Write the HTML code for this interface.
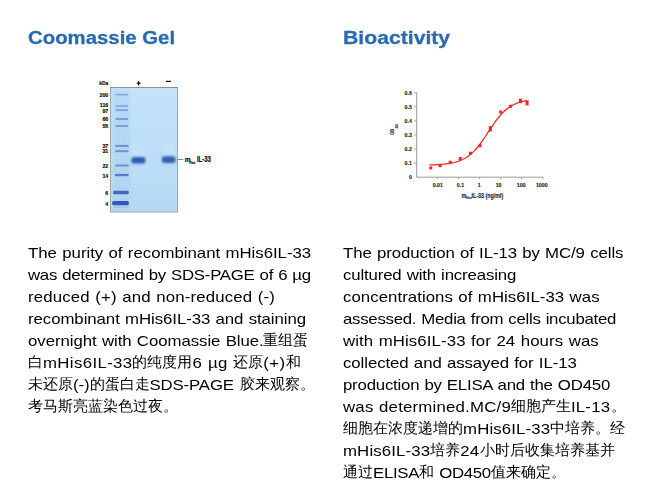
<!DOCTYPE html>
<html><head><meta charset="utf-8">
<style>
html,body{margin:0;padding:0;background:#fff;}
body{width:648px;height:494px;overflow:hidden;position:relative;font-family:"Liberation Sans",sans-serif;}
h2{position:absolute;transform-origin:0 0;-webkit-text-stroke:0.3px #2a6bb0;margin:0;font-weight:bold;font-size:18px;line-height:22px;color:#2a6bb0;white-space:nowrap;}
.ln{position:absolute;word-spacing:0.6px;font-size:15px;line-height:22px;height:22px;color:#000;white-space:nowrap;transform:scaleX(var(--sx));transform-origin:0 0;}
.cj{display:inline-block;position:relative;top:-0.7px;}
.cj>span{display:inline-block;transform:scaleX(var(--isx));transform-origin:0 0;}
:root{--sx:1.12;--isx:0.89286;}
svg{position:absolute;left:0;top:0;}
</style></head><body>
<h2 id="h1" style="left:28px;top:27px;transform:scaleX(1.131)">Coomassie Gel</h2>
<h2 id="h2" style="left:343.4px;top:27px;transform:scaleX(1.177)">Bioactivity</h2>


<svg id="gel" width="648" height="494" viewBox="0 0 648 494">
<defs>
<filter id="b1" x="-20%" y="-200%" width="140%" height="500%"><feGaussianBlur stdDeviation="0.65"/></filter>
<filter id="b2" x="-20%" y="-100%" width="140%" height="300%"><feGaussianBlur stdDeviation="0.75"/></filter>
<filter id="b4" x="-30%" y="-80%" width="160%" height="260%"><feGaussianBlur stdDeviation="0.95"/></filter>
<filter id="b3" x="-50%" y="-50%" width="200%" height="200%"><feGaussianBlur stdDeviation="1.5"/></filter>
<linearGradient id="gg" x1="0" y1="0" x2="0" y2="1"><stop offset="0" stop-color="#c4e3fa"/><stop offset="1" stop-color="#b6d9f3"/></linearGradient>
</defs>
<rect x="110.5" y="87.5" width="67" height="124.5" fill="url(#gg)" stroke="#a6a6a6" stroke-width="1"/>
<line x1="110" y1="87.5" x2="178" y2="87.5" stroke="#8e8e8e" stroke-width="1"/>
<rect x="113" y="90" width="17" height="121" fill="#a4c9ec" opacity="0.35" filter="url(#b3)"/>
<g opacity="0.3" filter="url(#b3)">
<rect x="133" y="143" width="11" height="13" fill="#d2ebfb"/>
<rect x="163.5" y="142" width="11" height="13" fill="#d2ebfb"/>
</g>
<g filter="url(#b1)">
<rect x="115.5" y="93.9" width="12.5" height="1.6" fill="#82a9d9"/>
<rect x="115.5" y="105.2" width="12.5" height="1.6" fill="#82a9d9"/>
<rect x="115.5" y="109.3" width="12.5" height="1.7" fill="#7aa3d6"/>
<rect x="115.5" y="118" width="12.5" height="1.9" fill="#739dd4"/>
<rect x="115.5" y="125" width="12.5" height="1.9" fill="#769fd4"/>
<rect x="115.3" y="144.9" width="13.3" height="2" fill="#6894d0"/>
<rect x="115.3" y="150.2" width="13.3" height="2" fill="#6894d0"/>
<rect x="115.3" y="164.5" width="13.3" height="2" fill="#6a95d0"/>
<rect x="115" y="173.9" width="13.6" height="2.3" fill="#4f7ec9"/>
<rect x="113.2" y="190.8" width="15.6" height="3.4" rx="1.2" fill="#3a6bc0"/>
<rect x="112.2" y="201" width="16.6" height="4.3" rx="1.5" fill="#2c5bb6"/>
<rect x="114" y="206.5" width="14" height="1.2" fill="#8fb2de" opacity="0.6"/>
</g>
<g filter="url(#b4)">
<rect x="131.4" y="156.9" width="14" height="6.6" rx="2.6" fill="#2e5cb4"/>
<rect x="161.9" y="156.3" width="13.6" height="6.6" rx="2.6" fill="#325fb6"/>
</g>
<line x1="177.6" y1="159.5" x2="183.3" y2="159.5" stroke="#666" stroke-width="0.8"/>
<g font-family="Liberation Sans, sans-serif" font-weight="bold" fill="#0a0a0a" stroke="#0a0a0a" stroke-width="0.18">
<g font-size="6.2" text-anchor="end">
<text transform="translate(108.3 84.5) scale(0.8 1)">kDa</text>
<text transform="translate(108.3 97.3) scale(0.85 1)">200</text>
<text transform="translate(108.3 106.9) scale(0.85 1)">116</text>
<text transform="translate(108.3 113.3) scale(0.85 1)">97</text>
<text transform="translate(108.3 121.1) scale(0.85 1)">66</text>
<text transform="translate(108.3 127.7) scale(0.85 1)">55</text>
<text transform="translate(108.3 148) scale(0.85 1)">37</text>
<text transform="translate(108.3 153.1) scale(0.85 1)">31</text>
<text transform="translate(108.3 167.5) scale(0.85 1)">22</text>
<text transform="translate(108.3 177.7) scale(0.85 1)">14</text>
<text transform="translate(108.3 195) scale(0.85 1)">6</text>
<text transform="translate(108.3 205.9) scale(0.85 1)">4</text>
</g>
<rect x="136.7" y="82.6" width="3.9" height="1.2" stroke="none"/>
<rect x="138.05" y="81.1" width="1.2" height="4.3" stroke="none"/>
<rect x="165.9" y="80.8" width="5.1" height="1.2" stroke="none"/>
<text transform="translate(184.8 161.8) scale(0.85 1)" font-size="7.8">m</text>
<text transform="translate(189.3 163.8) scale(0.75 1)" font-size="4.3">Hist</text>
<text transform="translate(196.9 161.8) scale(0.7 1)" font-size="8.6">IL-33</text>
</g>
</svg>

<svg id="chart" width="648" height="494" viewBox="0 0 648 494">
<path d="M416.7 92.7V177.2H543.2" fill="none" stroke="#8f8f8f" stroke-width="0.9"/>
<path d="M414 92.72H416.7M414 106.80H416.7M414 120.88H416.7M414 134.96H416.7M414 149.04H416.7M414 163.12H416.7M437.30 177.2V179.2M458.44 177.2V179.2M479.58 177.2V179.2M500.72 177.2V179.2M521.86 177.2V179.2M543.00 177.2V179.2" fill="none" stroke="#8f8f8f" stroke-width="0.8"/>
<g font-family="Liberation Sans, sans-serif" font-weight="bold" fill="#1a1a1a" stroke="#1a1a1a" stroke-width="0.12" font-size="6.2">
<g text-anchor="end"><text transform="translate(411.9 94.97) scale(0.86 1)">0.6</text><text transform="translate(411.9 109.05) scale(0.86 1)">0.5</text><text transform="translate(411.9 123.13) scale(0.86 1)">0.4</text><text transform="translate(411.9 137.21) scale(0.86 1)">0.3</text><text transform="translate(411.9 151.29) scale(0.86 1)">0.2</text><text transform="translate(411.9 165.37) scale(0.86 1)">0.1</text><text transform="translate(411.9 179.45) scale(0.86 1)">0</text></g>
<g text-anchor="middle"><text transform="translate(437.8 187) scale(0.86 1)">0.01</text><text transform="translate(460.5 187) scale(0.86 1)">0.1</text><text transform="translate(479.3 187) scale(0.86 1)">1</text><text transform="translate(498.6 187) scale(0.86 1)">10</text><text transform="translate(521.3 187) scale(0.86 1)">100</text><text transform="translate(541.8 187) scale(0.86 1)">1000</text></g>
<text transform="translate(461.6 197.5) scale(0.85 1)" font-size="6.4">m</text>
<text transform="translate(466 198.8) scale(0.85 1)" font-size="3.4">Hist</text>
<text transform="translate(471.4 197.5) scale(0.84 1)" font-size="6.4">IL-33 (ng/ml)</text>
<text transform="translate(394 135) rotate(-90) scale(0.75 1)" font-size="5.6">OD</text>
<text transform="translate(397.8 128.6) rotate(-90) scale(0.8 1)" font-size="3.4">450</text>
</g>
<path d="M429.5 164.98 L431.0 164.93 L432.5 164.88 L434.0 164.82 L435.5 164.76 L437.0 164.68 L438.5 164.59 L440.0 164.49 L441.5 164.38 L443.0 164.25 L444.5 164.10 L446.0 163.93 L447.5 163.73 L449.0 163.51 L450.5 163.26 L452.0 162.97 L453.5 162.64 L455.0 162.27 L456.5 161.85 L458.0 161.38 L459.5 160.84 L461.0 160.24 L462.5 159.56 L464.0 158.80 L465.5 157.95 L467.0 157.00 L468.5 155.95 L470.0 154.79 L471.5 153.52 L473.0 152.13 L474.5 150.62 L476.0 148.99 L477.5 147.24 L479.0 145.38 L480.5 143.41 L482.0 141.35 L483.5 139.21 L485.0 137.00 L486.5 134.74 L488.0 132.46 L489.5 130.17 L491.0 127.90 L492.5 125.67 L494.0 123.50 L495.5 121.40 L497.0 119.39 L498.5 117.48 L500.0 115.68 L501.5 114.00 L503.0 112.44 L504.5 111.00 L506.0 109.67 L507.5 108.47 L509.0 107.37 L510.5 106.38 L512.0 105.49 L513.5 104.70 L515.0 103.98 L516.5 103.35 L518.0 102.78 L519.5 102.28 L521.0 101.84 L522.5 101.45 L524.0 101.10 L525.5 100.80 L527.0 100.53" fill="none" stroke="#ee2424" stroke-width="1.25"/>
<g fill="#ee2424"><rect x="429.3" y="166.4" width="3" height="3.0"/><rect x="438.6" y="164.2" width="3" height="3.0"/><rect x="448.7" y="160.7" width="3" height="3.0"/><rect x="458.7" y="157.0" width="3" height="3.0"/><rect x="468.9" y="151.7" width="3" height="3.0"/><rect x="478.6" y="144.2" width="3" height="3.0"/><rect x="488.8" y="126.2" width="3" height="5.2"/><rect x="499.2" y="110.5" width="3" height="3.0"/><rect x="509.0" y="104.7" width="3" height="3.0"/><rect x="518.9" y="98.6" width="3" height="4.6"/><rect x="525.6" y="100.4" width="3" height="5.0"/></g>
</svg>
<div class="ln" style="left:28px;top:242px"><span style="letter-spacing:-0.014px">The purity of recombinant mHis6IL-33</span></div>
<div class="ln" style="left:28px;top:264px"><span style="letter-spacing:-0.231px">was determined by SDS-PAGE of 6 µg</span></div>
<div class="ln" style="left:28px;top:286px"><span style="letter-spacing:0.137px">reduced (+) and non-reduced (-)</span></div>
<div class="ln" style="left:28px;top:308px"><span style="letter-spacing:-0.058px">recombinant mHis6IL-33 and staining</span></div>
<div class="ln" style="left:28px;top:330px"><span style="letter-spacing:-0.049px">overnight with Coomassie Blue.</span><span class="cj" style="width:40.179px"><span>重组蛋</span></span></div>
<div class="ln" style="left:28px;top:352px"><span class="cj" style="width:13.393px"><span>白</span></span><span style="letter-spacing:0.323px">mHis6IL-33</span><span class="cj" style="width:53.571px"><span>的纯度用</span></span><span style="letter-spacing:0.323px">6 µg </span><span class="cj" style="width:26.786px"><span>还原</span></span><span style="letter-spacing:0.323px">(+)</span><span class="cj" style="width:13.393px"><span>和</span></span></div>
<div class="ln" style="left:28px;top:374px"><span class="cj" style="width:40.179px"><span>未还原</span></span><span style="letter-spacing:-0.116px">(-)</span><span class="cj" style="width:53.571px"><span>的蛋白走</span></span><span style="letter-spacing:-0.116px">SDS-PAGE </span><span class="cj" style="width:66.964px"><span>胶来观察。</span></span></div>
<div class="ln" style="left:28px;top:396px"><span class="cj" style="width:133.929px"><span>考马斯亮蓝染色过夜。</span></span></div>
<div class="ln" style="left:343px;top:242px"><span style="letter-spacing:-0.069px">The production of IL-13 by MC/9 cells</span></div>
<div class="ln" style="left:343px;top:264px"><span style="letter-spacing:-0.142px">cultured with increasing</span></div>
<div class="ln" style="left:343px;top:286px"><span style="letter-spacing:0.044px">concentrations of mHis6IL-33 was</span></div>
<div class="ln" style="left:343px;top:308px"><span style="letter-spacing:-0.242px">assessed. Media from cells incubated</span></div>
<div class="ln" style="left:343px;top:330px"><span style="letter-spacing:0.089px">with mHis6IL-33 for 24 hours was</span></div>
<div class="ln" style="left:343px;top:352px"><span style="letter-spacing:-0.070px">collected and assayed for IL-13</span></div>
<div class="ln" style="left:343px;top:374px"><span style="letter-spacing:-0.195px">production by ELISA and the OD450</span></div>
<div class="ln" style="left:343px;top:396px"><span style="letter-spacing:0.182px">was determined.MC/9</span><span class="cj" style="width:53.571px"><span>细胞产生</span></span><span style="letter-spacing:0.182px">IL-13</span><span class="cj" style="width:13.393px"><span>。</span></span></div>
<div class="ln" style="left:343px;top:418px"><span class="cj" style="width:107.143px"><span>细胞在浓度递增的</span></span><span style="letter-spacing:0.127px">mHis6IL-33</span><span class="cj" style="width:66.964px"><span>中培养。经</span></span></div>
<div class="ln" style="left:343px;top:440px"><span style="letter-spacing:0.115px">mHis6IL-33</span><span class="cj" style="width:26.786px"><span>培养</span></span><span style="letter-spacing:0.115px">24</span><span class="cj" style="width:120.536px"><span>小时后收集培养基并</span></span></div>
<div class="ln" style="left:343px;top:462px"><span class="cj" style="width:26.786px"><span>通过</span></span><span style="letter-spacing:-0.273px">ELISA</span><span class="cj" style="width:13.393px"><span>和</span></span><span style="letter-spacing:-0.273px"> OD450</span><span class="cj" style="width:66.964px"><span>值来确定。</span></span></div>
</body></html>
